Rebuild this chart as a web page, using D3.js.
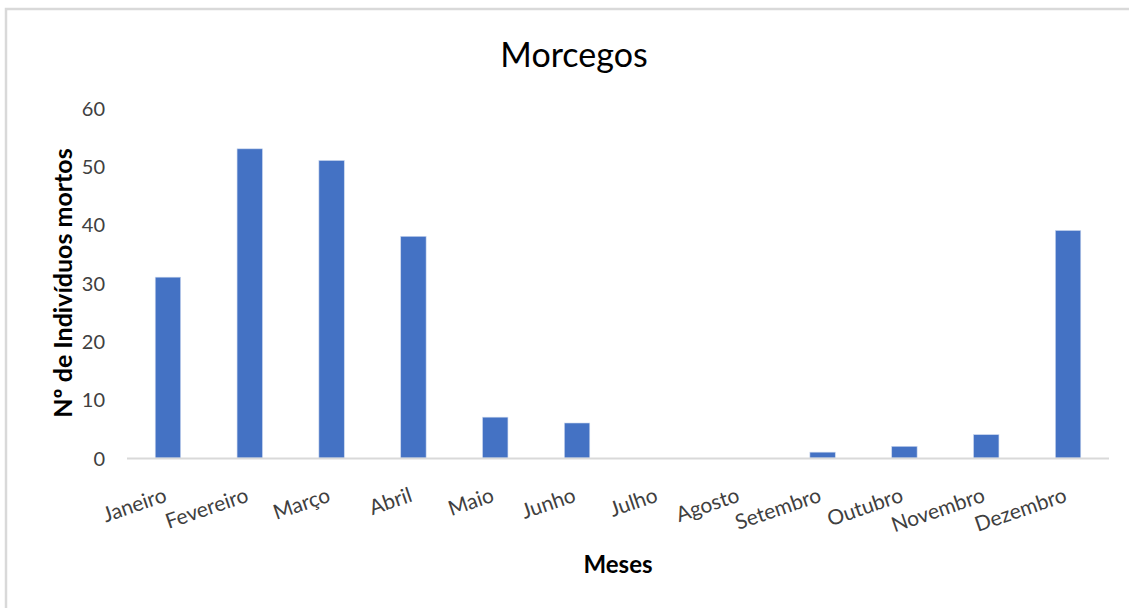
<!DOCTYPE html>
<html>
<head>
<meta charset="utf-8">
<script src="https://cdn.jsdelivr.net/npm/d3@7"></script>
<style>
  html, body { margin: 0; padding: 0; background: #ffffff; }
  svg { display: block; font-family: Lato, "Open Sans", sans-serif; }
</style>
</head>
<body>
<svg id="chart" width="1129" height="608"></svg>
<script>
// Monthly counts of dead bats
const months = ["Janeiro", "Fevereiro", "Março", "Abril", "Maio", "Junho",
                "Julho", "Agosto", "Setembro", "Outubro", "Novembro", "Dezembro"];
const deaths = [31, 53, 51, 38, 7, 6, 0, 0, 1, 2, 4, 39];
const yTicks = [0, 10, 20, 30, 40, 50, 60];

const chartTitle = "Morcegos";
const xTitle = "Meses";
const yTitle = "Nº de Indivíduos mortos";

const svg = d3.select("#chart");
const W = 1129, H = 608;
const plot = { left: 127, right: 1109, top: 108, bottom: 458 };

// Chart area frame
svg.append("rect")
  .attr("x", 6).attr("y", 9)
  .attr("width", W + 20).attr("height", H + 20)
  .attr("fill", "#ffffff")
  .attr("stroke", "#d9d9d9").attr("stroke-width", 2.5);

const x = d3.scaleBand()
  .domain(months)
  .range([plot.left, plot.right])
  .paddingInner(0.69)
  .paddingOuter(0.345);

const y = d3.scaleLinear()
  .domain([0, 60])
  .range([plot.bottom, plot.top]);

// Bars
svg.append("g")
  .selectAll("rect")
  .data(months.map((m, i) => ({ month: m, value: deaths[i] })))
  .join("rect")
  .attr("x", d => x(d.month))
  .attr("y", d => y(d.value))
  .attr("width", x.bandwidth())
  .attr("height", d => y(0) - y(d.value))
  .attr("fill", "#4472c4")
  .attr("stroke", "#c9d6ee")
  .attr("stroke-width", 0.6);

// Category axis line
svg.append("line")
  .attr("x1", plot.left).attr("x2", plot.right)
  .attr("y1", y(0) + 0.5).attr("y2", y(0) + 0.5)
  .attr("stroke", "#d9d9d9").attr("stroke-width", 2);

// Value axis labels
const yAxis = d3.axisLeft(y).tickValues(yTicks).tickSize(0).tickPadding(0);
const yG = svg.append("g")
  .attr("transform", `translate(105,0)`)
  .call(yAxis);
yG.select(".domain").remove();
yG.selectAll("text")
  .attr("font-family", "Lato, sans-serif")
  .attr("font-size", 20)
  .attr("fill", "#404040")
  .attr("dy", "0.35em");

// Category labels, rotated
const xAxis = d3.axisBottom(x).tickSize(0).tickPadding(0);
const xG = svg.append("g").call(xAxis);
xG.select(".domain").remove();
xG.selectAll(".tick").attr("transform", d => `translate(${x(d) + x.bandwidth() / 2},501)`);
xG.selectAll("text")
  .attr("font-family", "Lato, sans-serif")
  .attr("font-size", 21)
  .attr("fill", "#404040")
  .attr("y", 0).attr("dy", 0)
  .attr("text-anchor", "end")
  .attr("transform", "rotate(-19)");

// Title
svg.append("text")
  .attr("x", 574).attr("y", 67)
  .attr("text-anchor", "middle")
  .attr("font-size", 34)
  .attr("fill", "#000000")
  .text(chartTitle);

// Axis titles
svg.append("text")
  .attr("x", (plot.left + plot.right) / 2).attr("y", 573)
  .attr("text-anchor", "middle")
  .attr("font-size", 24)
  .attr("font-weight", "bold")
  .attr("fill", "#000000")
  .text(xTitle);

svg.append("text")
  .attr("transform", `translate(72,${(plot.top + plot.bottom) / 2}) rotate(-90)`)
  .attr("text-anchor", "middle")
  .attr("font-size", 25)
  .attr("font-weight", "bold")
  .attr("fill", "#000000")
  .text(yTitle);
</script>
</body>
</html>
